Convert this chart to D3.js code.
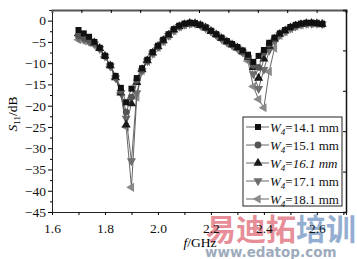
<!DOCTYPE html>
<html>
<head>
<meta charset="utf-8">
<script src="https://cdn.jsdelivr.net/npm/d3@7"></script>
<style>
  body { margin: 0; background: #fff; }
  svg { display: block; }
  text { font-family: "Liberation Serif", "Times New Roman", serif; }
</style>
</head>
<body>
<svg id="Graph" width="357" height="259"></svg>
<script>
// frequency points (GHz)
var freq = [1.70, 1.72, 1.74, 1.76, 1.78, 1.80, 1.82, 1.84, 1.86, 1.88, 1.90, 1.92, 1.94, 1.96, 1.98,
            2.00, 2.02, 2.04, 2.06, 2.08, 2.10, 2.12, 2.14, 2.16, 2.18, 2.20, 2.22, 2.24, 2.26, 2.28,
            2.30, 2.32, 2.34, 2.36, 2.38, 2.40, 2.42, 2.44, 2.46, 2.48, 2.50, 2.52, 2.54, 2.56, 2.58,
            2.60, 2.62];

// S11 (dB) for each W4
var s141 = [-2.2, -3.0, -3.8, -5.0, -6.4, -8.3, -10.5, -13.0, -15.8, -19.2, -16.0, -13.5, -11.2, -9.2, -7.4,
            -5.9, -4.5, -3.2, -2.0, -1.2, -0.7, -0.5, -0.6, -1.0, -1.6, -2.4, -3.2, -4.0, -4.8, -5.5,
            -6.2, -7.0, -8.0, -9.7, -8.3, -6.9, -5.2, -4.0, -3.0, -2.2, -1.5, -1.0, -0.7, -0.5, -0.5,
            -0.6, -0.8];
var s151 = [-3.5, -4.0, -4.6, -5.3, -6.5, -8.3, -10.5, -13.2, -16.5, -21.5, -18.0, -14.0, -11.4, -9.3, -7.5,
            -6.0, -4.6, -3.3, -2.1, -1.3, -0.8, -0.6, -0.6, -1.0, -1.6, -2.4, -3.2, -4.1, -4.9, -5.6,
            -6.3, -7.2, -8.3, -10.5, -11.0, -7.5, -5.5, -4.1, -3.1, -2.3, -1.6, -1.1, -0.8, -0.6, -0.6,
            -0.7, -0.8];
var s161 = [-3.0, -3.6, -4.3, -5.2, -6.5, -8.3, -10.6, -13.4, -17.0, -24.5, -19.5, -14.5, -11.5, -9.4, -7.6,
            -6.1, -4.7, -3.4, -2.2, -1.4, -0.9, -0.6, -0.7, -1.1, -1.7, -2.5, -3.3, -4.2, -5.0, -5.7,
            -6.4, -7.3, -8.6, -11.0, -13.5, -9.0, -6.0, -4.3, -3.2, -2.4, -1.7, -1.2, -0.9, -0.7, -0.6,
            -0.7, -0.8];
var s171 = [-4.0, -4.4, -4.9, -5.5, -6.6, -8.4, -10.7, -13.5, -17.0, -23.0, -33.0, -17.0, -11.8, -9.5, -7.7,
            -6.2, -4.8, -3.5, -2.3, -1.4, -0.9, -0.7, -0.7, -1.1, -1.7, -2.5, -3.4, -4.3, -5.1, -5.8,
            -6.5, -7.4, -8.8, -12.5, -16.0, -11.5, -7.0, -4.8, -3.4, -2.5, -1.8, -1.3, -0.9, -0.7, -0.7,
            -0.7, -0.8];
var s181 = [-4.5, -4.8, -5.2, -5.7, -6.7, -8.5, -10.8, -13.6, -17.0, -25.0, -39.2, -18.0, -11.8, -9.6, -7.8,
            -6.3, -4.9, -3.6, -2.4, -1.5, -1.0, -0.7, -0.8, -1.2, -1.8, -2.6, -3.5, -4.4, -5.2, -5.9,
            -6.7, -7.7, -9.5, -15.5, -18.5, -20.5, -12.0, -6.5, -3.5, -2.6, -1.9, -1.3, -1.0, -0.8, -0.7,
            -0.7, -0.8];

var legendLabels = ["14.1 mm", "15.1 mm", "16.1 mm", "17.1 mm", "18.1 mm"];
var xTicks = [1.6, 1.8, 2.0, 2.2, 2.4, 2.6];
var yTicks = [0, -5, -10, -15, -20, -25, -30, -35, -40, -45];

var series = [
    {label: legendLabels[0], values: s141, symbol: d3.symbolSquare,   rotate: 0,   color: "#111", size: 36},
    {label: legendLabels[1], values: s151, symbol: d3.symbolCircle,   rotate: 0,   color: "#555", size: 36},
    {label: legendLabels[2], values: s161, symbol: d3.symbolTriangle, rotate: 0,   color: "#1a1a1a", size: 36},
    {label: legendLabels[3], values: s171, symbol: d3.symbolTriangle, rotate: 180, color: "#6e6e6e", size: 36},
    {label: legendLabels[4], values: s181, symbol: d3.symbolTriangle, rotate: -90, color: "#8a8a8a", size: 36}
];

var svg = d3.select("svg"),
    margin = {top: 10, right: 11, bottom: 47, left: 52},
    width = +svg.attr("width") - margin.left - margin.right,
    height = +svg.attr("height") - margin.top - margin.bottom;

var x = d3.scaleLinear().domain([1.6, 2.71]).range([margin.left, margin.left + width]);
var y = d3.scaleLinear().domain([-45, 2.5]).range([margin.top + height, margin.top]);
// secondary frame scales (top / right ticks)
var xTop = d3.scaleLinear().domain([0, 10]).range([margin.left, margin.left + width]);
var yRight = d3.scaleLinear().domain([0, 5]).range([margin.top, margin.top + height]);

// watermark behind everything
var wm = svg.append("g").attr("opacity", 0.75);
wm.append("text")
    .attr("x", 206).attr("y", 240)
    .style("font-family", "'Noto Sans CJK SC', sans-serif")
    .style("font-weight", "bold")
    .style("font-size", "30px")
    .selectAll("tspan")
    .data([["易迪拓", "#e06a78"], ["培训", "#6f93c2"]])
    .enter().append("tspan")
    .attr("fill", d => d[1])
    .text(d => d[0]);
wm.append("text")
    .attr("x", 205).attr("y", 257)
    .attr("fill", "#7d8fa8")
    .style("font-family", "'DejaVu Sans', sans-serif")
    .style("font-weight", "bold")
    .style("font-size", "13.5px")
    .text("www.edatop.com");

// axes
var minus = d => (d < 0 ? "\u2212" + Math.abs(d) : "" + d);

var xAxis = svg.append("g")
    .attr("transform", "translate(0," + (margin.top + height) + ")")
    .call(d3.axisBottom(x).tickValues(d3.range(1.6, 2.71, 0.1)).tickSize(3)
        .tickFormat(d => xTicks.some(t => Math.abs(t - d) < 1e-6) ? d3.format(".1f")(d) : ""));
xAxis.select(".domain").attr("stroke", "#222");
xAxis.selectAll("text").attr("dy", "1.1em").style("font-size", "13.5px").attr("fill", "#111");

var yAxis = svg.append("g")
    .attr("transform", "translate(" + margin.left + ",0)")
    .call(d3.axisLeft(y).tickValues(d3.range(-45, 2.5, 2.5)).tickSize(3)
        .tickFormat(d => yTicks.indexOf(d) >= 0 ? minus(d) : ""));
yAxis.selectAll(".tick line").attr("x2", d => yTicks.indexOf(d) >= 0 ? -4 : -2);
yAxis.select(".domain").attr("stroke", "#222");
yAxis.selectAll("text").style("font-size", "13.5px").attr("fill", "#111");

var topAxis = svg.append("g")
    .attr("transform", "translate(0," + margin.top + ")")
    .call(d3.axisBottom(xTop).tickValues(d3.range(1, 10)).tickSize(3).tickFormat(""));
topAxis.select(".domain").attr("stroke", "#555").attr("stroke-width", 2);

var rightAxis = svg.append("g")
    .attr("transform", "translate(" + (margin.left + width) + ",0)")
    .call(d3.axisLeft(yRight).tickValues(d3.range(1, 5)).tickSize(3).tickFormat(""));
rightAxis.select(".domain").attr("stroke", "#111").attr("stroke-width", 1.5);

// axis titles
var yTitle = svg.append("text")
    .attr("transform", "translate(17," + (margin.top + 104) + ") rotate(-90)")
    .attr("text-anchor", "middle")
    .style("font-size", "13.5px");
yTitle.append("tspan").style("font-style", "italic").text("S");
yTitle.append("tspan").attr("dy", 3).style("font-size", "9px").text("11");
yTitle.append("tspan").attr("dy", -3).text("/dB");

var xTitle = svg.append("text")
    .attr("x", 200).attr("y", 247)
    .attr("text-anchor", "middle")
    .style("font-size", "13.5px");
xTitle.append("tspan").style("font-style", "italic").text("f");
xTitle.append("tspan").text("/GHz");

// curves
var line = d3.line()
    .x(function(d, i) { return x(freq[i]); })
    .y(function(d) { return y(d); });

var drawOrder = series.slice().reverse();
var curves = svg.selectAll(".curve")
    .data(drawOrder)
    .enter()
    .append("g")
        .attr("class", "curve");

curves.append("path")
    .attr("d", d => line(d.values))
    .attr("fill", "none")
    .attr("stroke", "#555")
    .attr("stroke-width", 0.9);

curves.each(function(s) {
    d3.select(this).selectAll("path.mk")
        .data(s.values)
        .enter()
        .append("path")
            .attr("class", "mk")
            .attr("d", d3.symbol().type(s.symbol).size(s.size))
            .attr("transform", (d, i) => "translate(" + x(freq[i]) + "," + y(d) + ") rotate(" + s.rotate + ")")
            .attr("fill", s.color);
});

// legend
var lg = svg.append("g").attr("transform", "translate(243,117)");
lg.append("rect")
    .attr("width", 99).attr("height", 89)
    .attr("fill", "#fff")
    .attr("stroke", "#222")
    .attr("stroke-width", 1);

var item = lg.selectAll(".item")
    .data(series)
    .enter()
    .append("g")
        .attr("class", "item")
        .attr("transform", (d, i) => "translate(0," + (10 + i * 18) + ")");

item.append("line")
    .attr("x1", 3).attr("x2", 26)
    .attr("stroke", "#555").attr("stroke-width", 0.9);
item.append("path")
    .attr("d", d => d3.symbol().type(d.symbol).size(d.size)())
    .attr("transform", d => "translate(15,0) rotate(" + d.rotate + ")")
    .attr("fill", d => d.color);

var lt = item.append("text")
    .attr("x", 27).attr("y", 4.5)
    .style("font-size", "13px")
    .attr("fill", "#111");
lt.append("tspan").style("font-style", "italic").text("W");
lt.append("tspan").attr("dy", 3).style("font-size", "9px").style("font-style", "italic").text("4");
lt.append("tspan").attr("dy", -3).text("=");
lt.append("tspan")
    .style("font-style", (d, i) => i == 2 ? "italic" : "normal")
    .text(d => d.label);
</script>
</body>
</html>
